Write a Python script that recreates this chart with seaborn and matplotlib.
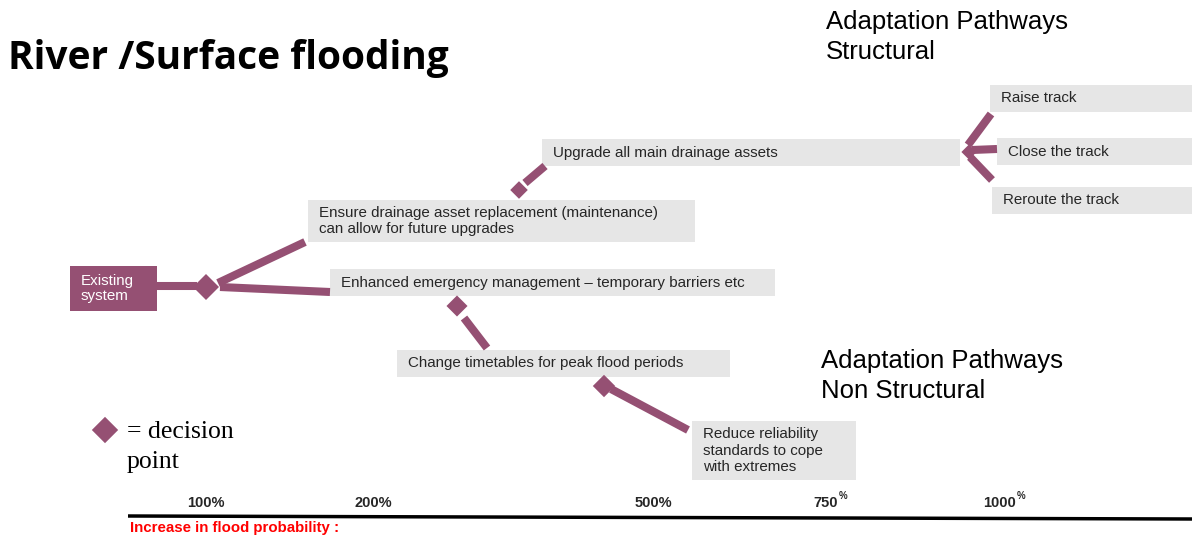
import matplotlib
matplotlib.use("Agg")
import matplotlib.pyplot as plt
import seaborn as sns
import pandas as pd
from matplotlib.patches import Rectangle

sns.set_theme(style="white")
plt.rcParams['font.family'] = ['Liberation Sans', 'DejaVu Sans']

PURPLE = "#955073"
GRAY = "#e6e6e6"

# Option boxes: label, left, top, right, bottom (canvas pixels)
box_labels = [
    "Ensure drainage asset replacement (maintenance)\ncan allow for future upgrades",
    "Enhanced emergency management \u2013 temporary barriers etc",
    "Upgrade all main drainage assets",
    "Raise track",
    "Close the track",
    "Reroute the track",
    "Change timetables for peak flood periods",
    "Reduce reliability\nstandards to cope\nwith extremes",
]
box_left = [308, 330, 542, 990, 997, 992, 397, 692]
box_top = [200, 269, 139, 85, 138, 187, 350, 421]
box_right = [695, 775, 960, 1192, 1192, 1192, 730, 856]
box_bottom = [242, 296, 166, 112, 165, 214, 377, 480]

# Decision points (diamonds)
diamond_x = [206, 519, 457, 604, 969, 105]
diamond_y = [287, 190, 306, 386, 152, 430]
diamond_size = [175, 80, 115, 130, 60, 180]

# Connectors
conn_x0 = [157, 218, 220, 525, 464, 611, 968, 972, 970]
conn_y0 = [286, 283, 287, 183, 318, 389, 145, 150, 157]
conn_x1 = [197, 305, 330, 545, 487, 688, 991, 997, 992]
conn_y1 = [286, 242, 292, 166, 348, 430, 114, 149, 180]

# Probability axis
tick_labels = ["100%", "200%", "500%", "750", "1000"]
tick_x = [206, 373, 653, 826, 1000]
tick_sup = [False, False, False, True, True]

fig = plt.figure(figsize=(11.92, 5.39), dpi=100)
ax = fig.add_axes([0, 0, 1, 1])

# boxes
for lab, l, t, r, b in zip(box_labels, box_left, box_top, box_right, box_bottom):
    ax.add_patch(Rectangle((l, t), r - l, b - t, facecolor=GRAY, edgecolor="none", zorder=1))
    ax.text(l + 11, (t + b) / 2, lab, fontsize=10.9, color="#262626", va="center", ha="left",
            linespacing=1.2, zorder=2)

# existing system
ax.add_patch(Rectangle((70, 266), 87, 45, facecolor=PURPLE, edgecolor="none", zorder=1))
ax.text(81, 288.5, "Existing\nsystem", fontsize=10.9, color="white", va="center", ha="left",
        linespacing=1.05, zorder=2)

# connectors
for x0, y0, x1, y1 in zip(conn_x0, conn_y0, conn_x1, conn_y1):
    ax.plot([x0, x1], [y0, y1], color=PURPLE, lw=5.8, solid_capstyle="butt", zorder=3)

# diamonds
dd = pd.DataFrame({"x": diamond_x, "y": diamond_y, "s": diamond_size})
sns.scatterplot(data=dd, x="x", y="y", size="s", sizes=(min(diamond_size), max(diamond_size)),
                marker="D", color=PURPLE, edgecolor="none", legend=False, ax=ax, zorder=4)
ax.set_xlim(0, 1192)
ax.set_ylim(539, 0)
ax.axis("off")

# titles
ax.text(8, 58, "River /Surface flooding", fontsize=28, fontweight="bold", color="black",
        va="center", ha="left", family=["Open Sans", "DejaVu Sans"])
ax.text(826, 37, "Adaptation Pathways\nStructural", fontsize=18.5, color="black",
        va="center", ha="left", linespacing=1.32)
ax.text(821, 376, "Adaptation Pathways\nNon Structural", fontsize=18.5, color="black",
        va="center", ha="left", linespacing=1.32)

# legend text
ax.text(127, 447, "= decision\npoint", fontsize=18.5, color="black", va="center", ha="left",
        family=["Liberation Serif", "DejaVu Serif"], linespacing=1.45)

# axis line
ax.plot([128, 1192], [516, 519], color="black", lw=2.5, solid_capstyle="butt")
for lab, x, sup in zip(tick_labels, tick_x, tick_sup):
    ax.text(x, 503, lab, fontsize=10.5, fontweight="bold", ha="center", va="center")
    if sup:
        ax.text(x + len(lab) * 4.0 + 1, 496, "%", fontsize=7, fontweight="bold", ha="left", va="center")
ax.text(130, 528, "Increase in flood probability :", fontsize=10.8, fontweight="bold",
        color="#ff0000", ha="left", va="center")

fig.savefig("out.png", dpi=100)
